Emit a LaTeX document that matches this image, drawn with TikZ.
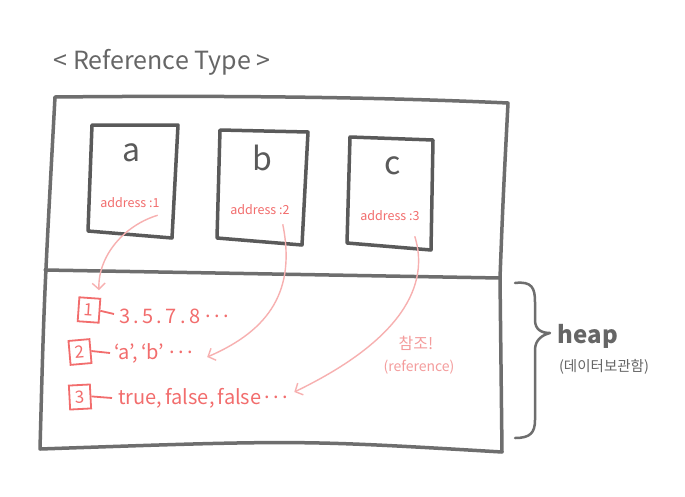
\documentclass[tikz,border=0pt]{standalone}
\usepackage{fontspec}
\setmainfont{Noto Sans CJK KR}
\usetikzlibrary{arrows.meta,calc}
\definecolor{framegray}{HTML}{6E6E6E}
\definecolor{boxgray}{HTML}{5A5A5A}
\definecolor{txtred}{HTML}{F26D6D}
\definecolor{notered}{HTML}{F49C9C}
\definecolor{arrowpink}{HTML}{F7B0B0}
\definecolor{txtgray}{HTML}{666666}
\newcommand\middot{\raisebox{0.3em}{.}}
\begin{document}
\begin{tikzpicture}[x=1pt,y=-1pt,
  frame/.style={draw=framegray,line width=3.5pt,line join=round,line cap=round},
  varbox/.style={draw=boxgray,line width=3.5pt,line join=round},
  varname/.style={text=boxgray,font=\fontsize{32}{32}\selectfont},
  addr/.style={text=txtred,font=\fontsize{12.5}{12.5}\selectfont,inner sep=1pt},
  slot/.style={draw=txtred,line width=1.8pt,text=txtred,minimum width=21pt,minimum height=24pt,inner sep=0pt,font=\fontsize{17}{17}\selectfont},
  val/.style={text=txtred,anchor=west,inner sep=2pt,font=\fontsize{20}{20}\selectfont},
  link/.style={draw=txtred,line width=1.8pt},
  refarrow/.style={draw=arrowpink,line width=1.4pt,-{Straight Barb[length=6pt,width=13pt]}},
  note/.style={text=notered,inner sep=1pt},
  ]
\useasboundingbox (0,0) rectangle (685,496);
\fill[white] (0,0) rectangle (685,496);

% title
\node[text=txtgray,font=\fontsize{25}{25}\selectfont] (title) at (162,62) {< Reference Type >};

% outer frame and divider
\draw[frame] (55,97) .. controls (250,95) and (400,98) .. (508,103)
  .. controls (503,200) .. (500,278) -- (502,452)
  .. controls (300,440) .. (40,449) .. controls (44,300) .. (55,97) -- cycle;
\draw[frame] (45,270) -- (500,278);

% variable boxes
\draw[varbox] (92,125) -- (178,125) -- (172,238) -- (88,231) -- cycle;
\draw[varbox] (220,130) -- (308,132) -- (302,245) -- (217,238) -- cycle;
\draw[varbox] (350,137) -- (433,140) -- (431,250) -- (347,243) -- cycle;

\node[varname] (na) at (132,153) {a};
\node[varname] (nb) at (262,158) {b};
\node[varname] (nc) at (393,166) {c};

\node[addr] (a1) at (130,203) {address :1};
\node[addr] (a2) at (260,210) {address :2};
\node[addr] (a3) at (390,216) {address :3};

% heap slots
\node[slot,rotate=-4] (s1) at (89,310) {1};
\node[slot,rotate=5] (s2) at (80,352) {2};
\node[slot,rotate=3] (s3) at (80,397) {3};

\node[val] (v1) at (117,316) {3\,.\,5\,.\,7\,.\,8\;\middot\,\middot\,\middot};
\node[val] (v2) at (112,353) {‘a’,\,‘b’\;\middot\,\middot\,\middot};
\node[val] (v3) at (116,398) {true,\,false,\,false\,\middot\,\middot\,\middot};

\draw[link] (s1.east) -- ($(v1.west)+(-3,-2)$);
\draw[link] (s2.east) -- ($(v2.west)+(-2,0)$);
\draw[link] (s3.east) -- ($(v3.west)+(-4,0)$);

% reference arrows
\draw[refarrow] ($(a1.south east)+(-3,6)$) .. controls (125,225) and (98,255) .. ($(s1.north)+(9,-7)$);
\draw[refarrow] ($(a2.south east)+(-8,8)$) .. controls (296,290) and (270,330) .. ($(v2.east)+(12,4)$);
\draw[refarrow] ($(a3.south east)+(-6,14)$) .. controls (430,285) and (402,340) .. ($(v3.east)+(4,-6)$);

\node[note,font=\fontsize{16}{16}\selectfont] (ref1) at (416,343) {참조!};
\node[note,font=\fontsize{14}{14}\selectfont] (ref2) at (419,367) {(reference)};

% heap brace
\draw[draw=framegray,line width=2.5pt,line cap=round,line join=round]
  (515,283) .. controls (532,281) and (535,288) .. (535,302) -- (535,320)
  .. controls (535,330) and (542,333) .. (550,333)
  .. controls (542,335) and (535,340) .. (535,350) -- (535,420)
  .. controls (535,433) and (530,438) .. (515,438);

\node[text=txtgray,font=\bfseries\fontsize{24}{24}\selectfont] (heap) at (588,336) {heap};
\node[text=txtgray,font=\fontsize{14.5}{14.5}\selectfont] (heapnote) at (604,367) {(데이터보관함)};
\end{tikzpicture}
\end{document}
